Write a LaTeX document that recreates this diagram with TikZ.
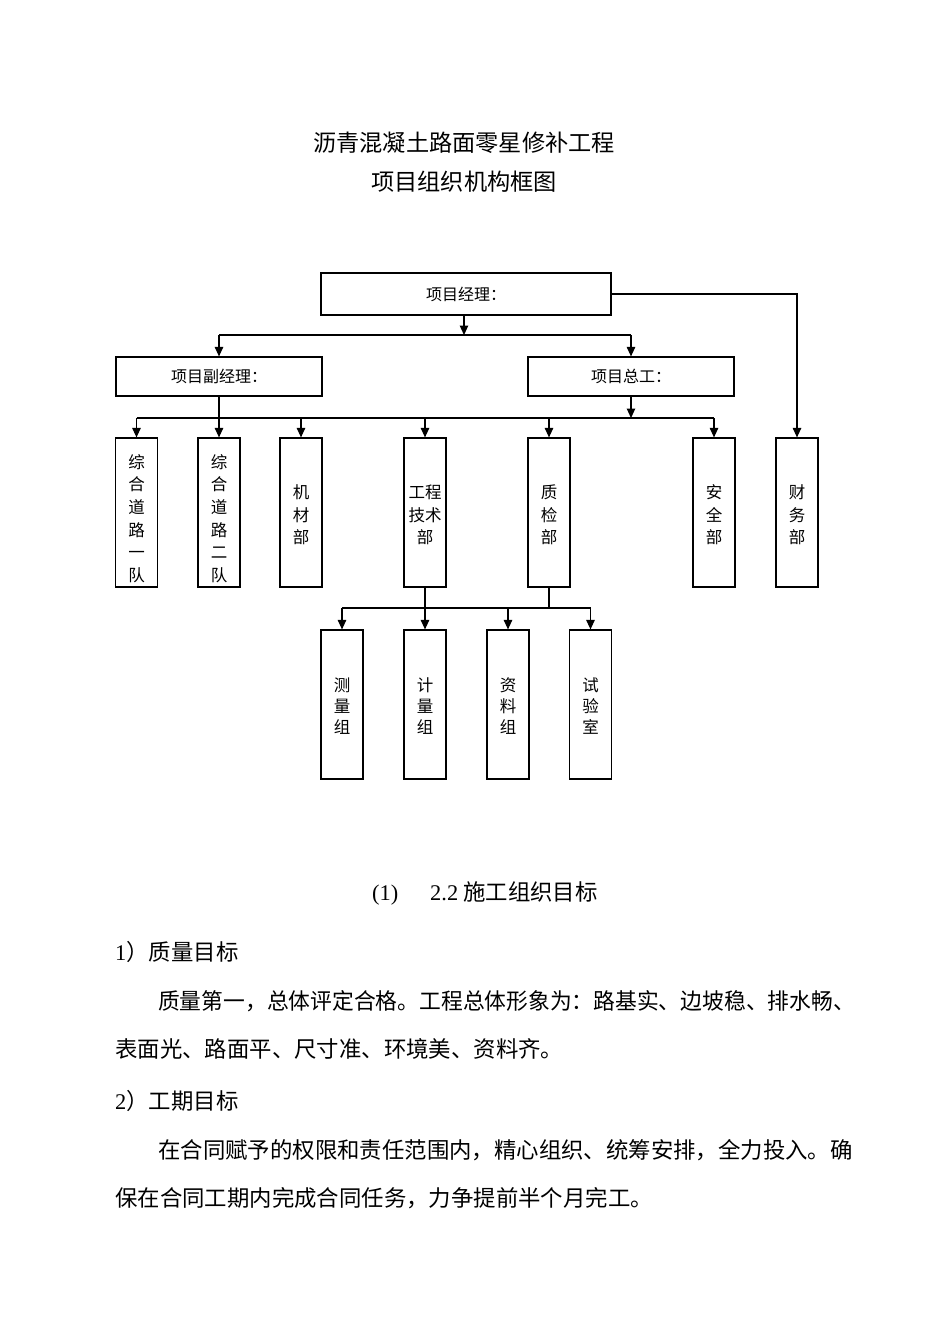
\documentclass[tikz,border=0pt]{standalone}
\usepackage{fontspec}
\usepackage{graphicx}
\setmainfont{Liberation Serif}
\newfontfamily\cjk{Noto Sans CJK SC}
\usetikzlibrary{arrows.meta}
\begin{document}
\begin{tikzpicture}[x=1pt,y=-1pt,
  box/.style={draw,line width=1.2pt,inner sep=0pt,align=center},
  wbox/.style={box,minimum width=206pt,minimum height=39pt,font=\cjk\fontsize{16}{18}\selectfont},
  vbox/.style={box,minimum width=42pt,minimum height=149pt},
  vt/.style={inner sep=0pt,align=center,font=\cjk\fontsize{16.5}{22.6}\selectfont},
  vts/.style={inner sep=0pt,align=center,font=\cjk\fontsize{16.5}{21}\selectfont},
  ln/.style={line width=1.1pt},
  arr/.style={ln,-{Triangle[length=9.5pt,width=8.5pt]}},
  txt/.style={inner sep=0pt,anchor=base west,font=\fontsize{22.4}{26}\selectfont},
  ttl/.style={inner sep=0pt,font=\cjk\fontsize{23.2}{28}\selectfont}]
\useasboundingbox (0,0) rectangle (950,1344);
% titles
\node[ttl] (t1) at (464,143) {沥青混凝土路面零星修补工程};
\node[ttl] (t2) at (464,182) {项目组织机构框图};
% top level
\node[box,minimum width=290pt,minimum height=42pt,font=\cjk\fontsize{16}{18}\selectfont] (pm) at (466,294) {项目经理：};
\node[wbox] (dpm) at (219,376.5) {项目副经理：};
\node[wbox] (ce) at (631,376.5) {项目总工：};
% departments
\node[vbox] (d1) at (136.5,512.5) {};
\node[vbox] (d2) at (219,512.5) {};
\node[vbox] (d3) at (301,512.5) {};
\node[vbox] (d4) at (425,512.5) {};
\node[vbox] (d5) at (549,512.5) {};
\node[vbox] (d6) at (714,512.5) {};
\node[vbox] (d7) at (797,512.5) {};
\node[vt] (d1t) at (136.5,518.5) {综\\合\\道\\路\\一\\队};
\node[vt] (d2t) at (219,518.5) {综\\合\\道\\路\\二\\队};
\node[vt] (d3t) at (301,515) {机\\材\\部};
\node[vt] (d4t) at (425,515) {工程\\技术\\部};
\node[vt] (d5t) at (549,515) {质\\检\\部};
\node[vt] (d6t) at (714,515) {安\\全\\部};
\node[vt] (d7t) at (797,515) {财\\务\\部};
% groups
\node[vbox] (g1) at (342,704.5) {};
\node[vbox] (g2) at (425,704.5) {};
\node[vbox] (g3) at (508,704.5) {};
\node[vbox] (g4) at (590.5,704.5) {};
\node[vts] (g1t) at (342,706) {测\\量\\组};
\node[vts] (g2t) at (425,706) {计\\量\\组};
\node[vts] (g3t) at (508,706) {资\\料\\组};
\node[vts] (g4t) at (590.5,706) {试\\验\\室};
% coordinates
\coordinate (b1) at (464,335);
\coordinate (b1l) at (219,335);
\coordinate (b1r) at (631,335);
\coordinate (b2) at (631,418);
\coordinate (b2l) at (136.5,418);
\coordinate (b2r) at (714,418);
\coordinate (b3) at (549,608);
\coordinate (b3l) at (342,608);
\coordinate (b3r) at (590.5,608);
% connectors
\draw[arr] (pm.south -| b1) -- (b1);
\draw[ln] (b1l) -- (b1r);
\draw[arr] (b1l) -- (dpm.north);
\draw[arr] (b1r) -- (ce.north);
\draw[arr] (pm.east) -| (d7.north);
\draw[arr] (ce.south) -- (b2);
\draw[ln] (b2l) -- (b2r);
\draw[arr] (dpm.south) -- (d2.north);
\draw[arr] (b2l) -- (d1.north);
\draw[arr] (b2 -| d3) -- (d3.north);
\draw[arr] (b2 -| d4) -- (d4.north);
\draw[arr] (b2 -| d5) -- (d5.north);
\draw[arr] (b2r) -- (d6.north);
\draw[arr] (d4.south) -- (g2.north);
\draw[ln] (d5.south) -- (b3);
\draw[ln] (b3l) -- (b3r);
\draw[arr] (b3l) -- (g1.north);
\draw[arr] (b3 -| g3) -- (g3.north);
\draw[arr] (b3r) -- (g4.north);
% text below
\node[txt] (s0a) at (372,900.5) {(1)};
\node[txt] (s0b) at (430,900.5) {2.2\hspace{5pt}{\cjk 施工组织目标}};
\node[txt] (s1) at (115,960.5) {1{\cjk ）质量目标}};
\node[txt] (p1a) at (158,1009.5) {\scalebox{0.972}[1]{\cjk 质量第一，总体评定合格。工程总体形象为：路基实、边坡稳、排水畅、}};
\node[txt] (p1b) at (115,1057.5) {\cjk 表面光、路面平、尺寸准、环境美、资料齐。};
\node[txt] (s2) at (115,1109.5) {2{\cjk ）工期目标}};
\node[txt] (p2a) at (158,1158.5) {\cjk 在合同赋予的权限和责任范围内，精心组织、统筹安排，全力投入。确};
\node[txt] (p2b) at (115,1206.5) {\cjk 保在合同工期内完成合同任务，力争提前半个月完工。};
\end{tikzpicture}
\end{document}
